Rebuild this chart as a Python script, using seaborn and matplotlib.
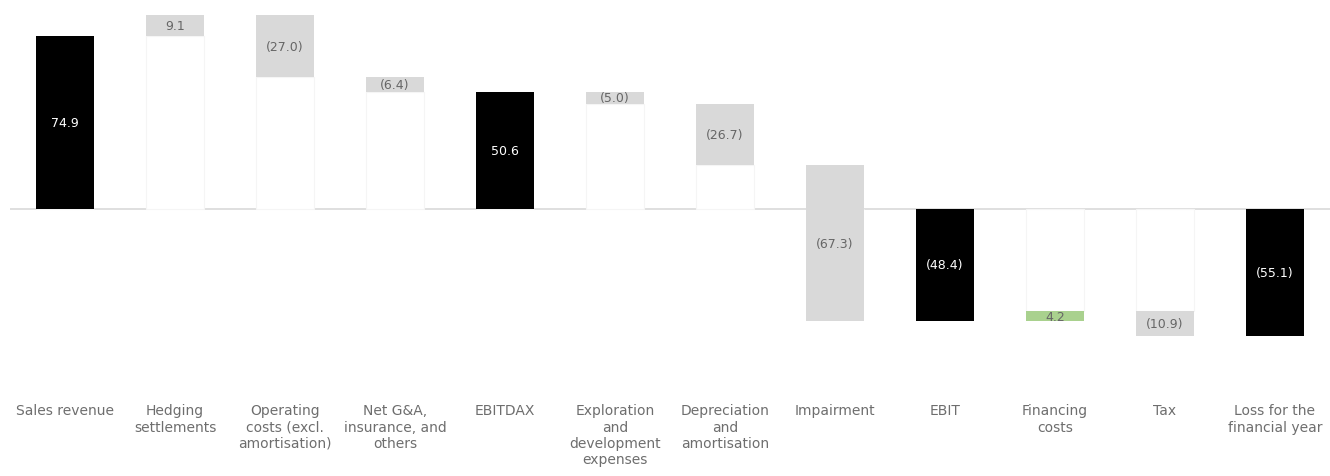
import numpy as np
import pandas as pd
import seaborn as sns
import matplotlib.pyplot as plt

categories = ["Sales revenue", "Hedging\nsettlements", "Operating\ncosts (excl.\namortisation)",
              "Net G&A,\ninsurance, and\nothers", "EBITDAX", "Exploration\nand\ndevelopment\nexpenses",
              "Depreciation\nand\namortisation", "Impairment", "EBIT", "Financing\ncosts", "Tax",
              "Loss for the\nfinancial year"]
values = [74.9, 9.1, -27.0, -6.4, 50.6, -5.0, -26.7, -67.3, -48.4, 4.2, -10.9, -55.1]
is_total = [True, False, False, False, True, False, False, False, True, False, False, True]

BLACK = "#000000"
GREY = "#d9d9d9"
GREEN = "#a9d18e"

# waterfall: totals start at zero, deltas float from the running total
bottoms, heights, colors, bases = [], [], [], []
running = 0.0
for v, tot in zip(values, is_total):
    if tot:
        bottoms.append(0.0)
        heights.append(v)
        colors.append(BLACK)
        bases.append(0.0)
        running = v
    else:
        start, end = running, running + v
        bottoms.append(start)
        heights.append(v)
        colors.append(GREEN if (v > 0 and start < 0) else GREY)
        # faint helper bar underneath (invisible in Excel-style waterfall)
        if start * end > 0:
            bases.append(min(start, end) if start > 0 else max(start, end))
        else:
            bases.append(0.0)
        running = end

df = pd.DataFrame({"cat": categories, "value": values, "bottom": bottoms,
                   "height": heights, "base": bases})

sns.set_theme(style="white")
plt.rcParams["font.family"] = ["DejaVu Sans"]

fig = plt.figure(figsize=(13.3, 4.77), dpi=100)
ax = fig.add_axes([10 / 1330, 117 / 477, 1320 / 1330, 360 / 477])

sns.barplot(data=df, x="cat", y="base", color="white", width=0.52,
            edgecolor="#f5f5f5", linewidth=0.8, ax=ax)
sns.barplot(data=df, x="cat", y="height", bottom=df["bottom"].values, color=GREY,
            width=0.52, linewidth=0, ax=ax)

main = ax.patches[len(df):]
for p, c in zip(main, colors):
    p.set_facecolor(c)

ax.axhline(0, color="#d9d9d9", linewidth=1.2, zorder=0.5)

for i, (v, b, c) in enumerate(zip(values, bottoms, colors)):
    txt = f"{v:.1f}" if v >= 0 else f"({abs(v):.1f})"
    ax.text(i, b + v / 2, txt, ha="center", va="center", fontsize=9,
            color="white" if c == BLACK else "#666666")

ax.set_xlim(-0.5, 11.5)
ax.set_ylim(-64.9, 90.9)
ax.set_xlabel("")
ax.set_ylabel("")
ax.set_yticks([])
ax.tick_params(axis="x", length=0, pad=32, labelsize=10, labelcolor="#6e6e6e")
ax.set_xticks(range(len(categories)))
ax.set_xticklabels(categories, va="top", linespacing=1.2)
sns.despine(ax=ax, left=True, bottom=True)

fig.savefig("out.png", dpi=100)
